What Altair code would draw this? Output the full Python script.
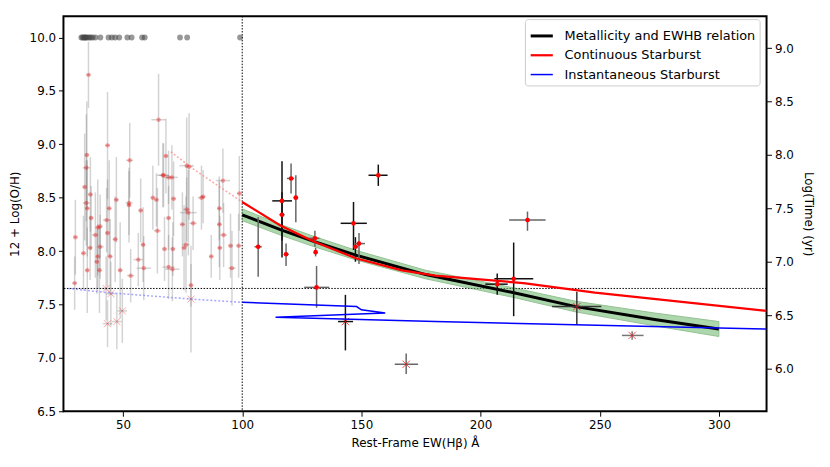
import altair as alt
import pandas as pd

# ---------------- data ----------------
# galaxies without a metallicity (plotted at 10.0)
top_x = [32.5, 33.0, 33.5, 33.9, 34.2, 34.6, 35.2, 35.9, 36.5, 37.3, 38.4, 40.5,
         43.9, 45.3, 46.7, 48.4, 51.8, 53.6, 58.0, 59.1, 73.9, 76.9, 99.1]

# low-EW sample (x < 100): EW, 12+log(O/H), y error, x error
low_x = [35.5, 64.9, 43.5, 34.8, 34.6, 52.8, 68.0, 66.7, 76.7, 77.7, 91.9, 69.1,
         33.9, 36.3, 34.6, 35.0, 36.6, 30.0, 38.4, 39.4, 40.4, 43.1, 44.2, 47.2,
         43.5, 40.4, 36.2, 33.4, 39.4, 39.0, 40.1, 35.0, 29.7, 44.6, 46.7, 48.8,
         52.5, 52.5, 57.4, 58.4, 56.4, 58.7, 53.2, 62.5, 64.0, 64.4, 71.2, 69.1,
         67.4, 70.9, 69.1, 70.7, 67.0, 70.5, 76.7, 77.4, 79.4, 74.9, 75.6, 76.4,
         78.5, 82.9, 83.6, 90.4, 90.4, 92.2, 90.6, 87.0, 95.7, 95.1, 98.5, 98.8]
low_y = [9.65, 9.23, 8.99, 8.90, 8.78, 8.85, 8.89, 8.71, 8.80, 8.79, 8.66, 8.69,
         8.60, 8.53, 8.45, 8.40, 8.31, 8.13, 8.15, 8.22, 8.23, 8.29, 8.40, 8.48,
         8.17, 8.04, 8.03, 7.98, 7.95, 7.90, 7.82, 7.82, 7.70, 7.95, 8.11, 7.82,
         8.45, 8.43, 8.38, 8.06, 7.92, 7.84, 7.77, 8.50, 8.48, 8.19, 8.49, 8.31,
         8.02, 8.02, 7.85, 7.83, 8.71, 8.69, 8.39, 8.36, 8.26, 8.25, 8.03, 8.06,
         7.68, 8.50, 8.51, 8.40, 8.25, 8.15, 8.03, 7.95, 7.84, 8.05, 8.05, 8.54]
low_ye = [0.31, 0.43, 0.50, 0.50, 0.50, 0.35, 0.35, 0.30, 0.45, 0.50, 0.30, 0.25,
          0.50, 0.35, 0.40, 0.45, 0.30, 0.35, 0.40, 0.45, 0.30, 0.30, 0.45, 0.40,
          0.50, 0.30, 0.30, 0.35, 0.30, 0.30, 0.40, 0.40, 0.25, 0.35, 0.40, 0.45,
          0.30, 0.35, 0.30, 0.35, 0.25, 0.30, 0.25, 0.30, 0.25, 0.40, 0.35, 0.30,
          0.30, 0.25, 0.30, 0.30, 0.30, 0.30, 0.30, 0.40, 0.25, 0.30, 0.40, 0.45,
          0.20, 0.30, 0.25, 0.30, 0.40, 0.30, 0.30, 0.20, 0.35, 0.30, 0.30, 0.35]
low_xe = [1.0, 3.0, 1.0, 1.0, 1.5, 1.5, 1.0, 2.5, 3.0, 1.5, 3.0, 2.0,
          1.0, 1.0, 1.5, 1.0, 1.0, 1.0, 1.5, 1.0, 1.0, 1.5, 1.0, 1.0,
          1.0, 1.5, 1.0, 1.0, 1.0, 1.0, 1.0, 1.0, 1.0, 1.0, 1.0, 1.0,
          1.5, 1.0, 1.0, 1.0, 2.0, 3.0, 1.5, 1.0, 1.0, 1.5, 1.0, 1.0,
          1.0, 1.0, 2.5, 3.0, 2.0, 2.5, 1.5, 3.5, 1.5, 1.0, 1.0, 1.5,
          1.0, 1.5, 1.0, 1.0, 1.0, 1.5, 1.0, 1.0, 1.5, 1.0, 1.0, 1.0]

# low-EW upper-limit style (x markers)
lowx_x = [42.9, 44.9, 49.7, 43.5, 47.4, 78.5]
lowx_y = [7.65, 7.60, 7.44, 7.32, 7.34, 7.55]
lowx_ye = [0.30, 0.30, 0.30, 0.22, 0.26, 0.50]
lowx_xe = [2.0, 2.0, 2.0, 2.0, 2.0, 1.0]

# high-EW sample (x > 100): EW, O/H, EW range, O/H range, marker, bar colour
hi_x  = [116.7, 116.7, 120.5, 122.5, 118.4, 106.7, 130.5, 130.8, 131.2, 146.7,
         147.5, 149.0, 157.1, 143.3, 168.8, 219.7, 213.9, 207.0, 240.4, 263.6]
hi_y  = [8.47, 8.34, 8.68, 8.50, 7.97, 8.04, 8.12, 7.99, 7.66, 8.26,
         8.04, 8.07, 8.71, 7.34, 6.94, 8.29, 7.74, 7.69, 7.48, 7.21]
hi_x1 = [112.6, 115.7, 118.8, 121.5, 117.5, 105.2, 127.8, 130.3, 126.0, 141.3,
         146.5, 147.0, 153.0, 140.2, 164.0, 212.0, 205.8, 202.0, 230.0, 259.3]
hi_x2 = [120.9, 117.7, 121.8, 123.5, 119.5, 108.2, 132.4, 131.3, 136.5, 152.3,
         148.5, 151.5, 161.0, 146.5, 173.8, 227.3, 222.1, 211.4, 250.7, 268.4]
hi_y1 = [7.94, 8.10, 8.54, 8.27, 7.86, 7.76, 8.04, 7.95, 7.47, 8.01,
         7.90, 7.88, 8.61, 7.07, 6.85, 8.19, 7.39, 7.59, 7.31, 7.17]
hi_y2 = [8.84, 8.55, 8.82, 8.71, 8.07, 8.32, 8.19, 8.03, 7.86, 8.46,
         8.13, 8.17, 8.81, 7.59, 7.04, 8.37, 8.08, 7.79, 7.62, 7.25]
hi_mk = ["o", "o", "o", "o", "o", "o", "o", "o", "o", "o",
         "o", "o", "o", "x", "x", "o", "o", "o", "x", "x"]
hi_ec = ["#111111", "#111111", "#666666", "#666666", "#666666", "#666666", "#666666", "#666666", "#666666", "#111111",
         "#111111", "#666666", "#111111", "#111111", "#666666", "#666666", "#111111", "#111111", "#333333", "#777777"]

# metallicity - EW(Hb) relation and its uncertainty band
rel_x = [100, 116, 130, 148, 177, 214, 240, 273, 300]
rel_y = [8.34, 8.20, 8.09, 7.96, 7.78, 7.61, 7.48, 7.36, 7.27]
rel_e = [0.055, 0.05, 0.048, 0.045, 0.04, 0.045, 0.05, 0.06, 0.07]

# starburst models, Log(Time) (right axis)
cont_x = [100, 116, 130, 148, 167, 181, 218, 248, 320]
cont_t = [7.56, 7.34, 7.19, 7.03, 6.92, 6.87, 6.80, 6.71, 6.54]
inst_x = [100, 148, 150, 160, 114, 181, 320]
inst_t = [6.62, 6.58, 6.55, 6.52, 6.48, 6.44, 6.37]
cont_ext_x = [70, 80, 90, 100]
cont_ext_t = [8.03, 7.86, 7.71, 7.56]
inst_ext_x = [27, 44, 79, 100]
inst_ext_t = [6.75, 6.71, 6.65, 6.62]

ew_cut = 100
oh_cut = 7.65

series = ["Metallicity and EWHB relation", "Continuous Starburst", "Instantaneous Starburst"]

# ---------------- tables ----------------
top_df = pd.DataFrame({"x": top_x, "y": [10.0] * len(top_x)})
low_df = pd.DataFrame({"x": low_x, "y": low_y, "ye": low_ye, "xe": low_xe})
low_df["y1"] = low_df.y - low_df.ye
low_df["y2"] = low_df.y + low_df.ye
low_df["x1"] = low_df.x - low_df.xe
low_df["x2"] = low_df.x + low_df.xe
lowx_df = pd.DataFrame({"x": lowx_x, "y": lowx_y, "ye": lowx_ye, "xe": lowx_xe})
lowx_df["y1"] = lowx_df.y - lowx_df.ye
lowx_df["y2"] = lowx_df.y + lowx_df.ye
lowx_df["x1"] = lowx_df.x - lowx_df.xe
lowx_df["x2"] = lowx_df.x + lowx_df.xe
lowe_df = pd.concat([low_df, lowx_df], ignore_index=True)

hi_df = pd.DataFrame({"x": hi_x, "y": hi_y, "x1": hi_x1, "x2": hi_x2,
                      "y1": hi_y1, "y2": hi_y2, "mk": hi_mk, "ec": hi_ec})
rel_df = pd.DataFrame({"x": rel_x, "y": rel_y, "e": rel_e})
rel_df["lo"] = rel_df.y - rel_df.e
rel_df["hi"] = rel_df.y + rel_df.e
rel_df["series"] = series[0]
rel_df["i"] = range(len(rel_df))

mod_df = pd.concat([
    pd.DataFrame({"x": cont_x, "t": cont_t, "series": series[1], "i": range(len(cont_x))}),
    pd.DataFrame({"x": inst_x, "t": inst_t, "series": series[2], "i": range(len(inst_x))}),
], ignore_index=True)
cext_df = pd.DataFrame({"x": cont_ext_x, "t": cont_ext_t})
iext_df = pd.DataFrame({"x": inst_ext_x, "t": inst_ext_t})

# ---------------- scales / axes ----------------
xs = alt.Scale(domain=[25, 320], nice=False, zero=False)
yls = alt.Scale(domain=[6.5, 10.2], nice=False, zero=False)
yrs = alt.Scale(domain=[5.6, 9.3], nice=False, zero=False)
xax = alt.Axis(title="Rest-Frame EW(Hβ) Å", values=[50, 100, 150, 200, 250, 300], format="d")
ylax = alt.Axis(title="12 + Log(O/H)", values=[6.5, 7.0, 7.5, 8.0, 8.5, 9.0, 9.5, 10.0],
                format=".1f", orient="left")
yrax = alt.Axis(title="Log(Time) (yr)", values=[6.0, 6.5, 7.0, 7.5, 8.0, 8.5, 9.0],
                format=".1f", orient="right")

def X(f="x"):
    return alt.X(f"{f}:Q", scale=xs, axis=xax)

def YL(f="y"):
    return alt.Y(f"{f}:Q", scale=yls, axis=ylax)

def YR(f="t"):
    return alt.Y(f"{f}:Q", scale=yrs, axis=yrax)

cscale = alt.Scale(domain=series, range=["black", "red", "blue"])
wscale = alt.Scale(domain=series, range=[3, 1.5, 1.5])
leg = alt.Legend(title=None, orient="none", legendX=466, legendY=3, fillColor="white",
                 strokeColor="#cccccc", cornerRadius=3, padding=4,
                 labelFontSize=13, labelFont="DejaVu Sans", symbolType="stroke",
                 symbolSize=500, rowPadding=-3, labelLimit=400, labelOffset=10)

xshape = "M-1,-1L1,1M-1,1L1,-1"

# ---------------- left-axis layers ----------------
top_pts = alt.Chart(top_df).mark_circle(color="#444444", opacity=0.55, size=34).encode(x=X(), y=YL())

low_v = alt.Chart(lowe_df).mark_rule(color="gray", opacity=0.35, strokeWidth=1.5).encode(
    x=X(), y=YL("y1"), y2="y2")
low_h = alt.Chart(lowe_df).mark_rule(color="gray", opacity=0.35, strokeWidth=1.5).encode(
    x=X("x1"), x2="x2", y=YL())
low_pts = alt.Chart(low_df).mark_circle(color="red", opacity=0.35, size=20).encode(x=X(), y=YL())
lowx_pts = alt.Chart(lowx_df).mark_point(shape=xshape, filled=False, color="red", opacity=0.35,
                                          size=50, strokeWidth=1).encode(x=X(), y=YL())

vline = alt.Chart(pd.DataFrame({"x": [ew_cut]})).mark_rule(
    color="black", strokeDash=[1.5, 1.5], strokeWidth=1).encode(x=X())
hline = alt.Chart(pd.DataFrame({"y": [oh_cut]})).mark_rule(
    color="black", strokeDash=[1.5, 1.5], strokeWidth=1).encode(y=YL())

band = alt.Chart(rel_df).mark_area(color="#6ab86a", opacity=0.55, stroke="#3c8f3c",
                                   strokeWidth=1).encode(x=X(), y=YL("lo"), y2="hi")
rel_line = alt.Chart(rel_df).mark_line().encode(
    x=X(), y=YL(), order="i:Q",
    color=alt.Color("series:N", scale=cscale, legend=leg),
    strokeWidth=alt.StrokeWidth("series:N", scale=wscale, legend=leg))

hi_v = alt.Chart(hi_df).mark_rule(strokeWidth=1.5).encode(
    x=X(), y=YL("y1"), y2="y2", color=alt.Color("ec:N", scale=None))
hi_h = alt.Chart(hi_df).mark_rule(strokeWidth=1.5).encode(
    x=X("x1"), x2="x2", y=YL(), color=alt.Color("ec:N", scale=None))
hi_o = alt.Chart(hi_df[hi_df.mk == "o"]).mark_circle(color="red", opacity=1, size=22).encode(
    x=X(), y=YL())
hi_xm = alt.Chart(hi_df[hi_df.mk == "x"]).mark_point(shape=xshape, filled=False, color="red",
                                                      size=55, strokeWidth=1).encode(x=X(), y=YL())

left = alt.layer(top_pts, low_v, low_h, low_pts, lowx_pts, vline, hline,
                 band, rel_line, hi_v, hi_h, hi_o, hi_xm)

# ---------------- right-axis layers ----------------
cext = alt.Chart(cext_df).mark_line(color="#ff8080", opacity=0.7, strokeDash=[2, 2],
                                    strokeWidth=1.5).encode(x=X(), y=YR())
iext = alt.Chart(iext_df).mark_line(color="#8080ff", opacity=0.7, strokeDash=[2, 2],
                                    strokeWidth=1.5).encode(x=X(), y=YR())
models = alt.Chart(mod_df).mark_line(clip=True).encode(
    x=X(), y=YR(), order="i:Q", detail="series:N",
    color=alt.Color("series:N", scale=cscale, legend=leg),
    strokeWidth=alt.StrokeWidth("series:N", scale=wscale, legend=leg))

right = alt.layer(cext, iext, models)

chart = alt.layer(left, right).resolve_scale(y="independent").properties(
    width=710, height=399,
    autosize=alt.AutoSizeParams(type="none"),
    padding={"left": 56, "top": 6, "right": 56, "bottom": 46},
).configure(font="DejaVu Sans").configure_view(
    stroke="black", strokeWidth=2
).configure_axis(
    grid=False, domain=False, tickColor="black", tickSize=5, tickWidth=1,
    labelColor="black", labelFontSize=12, labelFont="DejaVu Sans",
    titleColor="black", titleFontSize=12, titleFont="DejaVu Sans", titleFontWeight="normal",
    labelPadding=3, titlePadding=8
)

chart.save("out.html", embed_options={"renderer": "svg", "actions": False})
